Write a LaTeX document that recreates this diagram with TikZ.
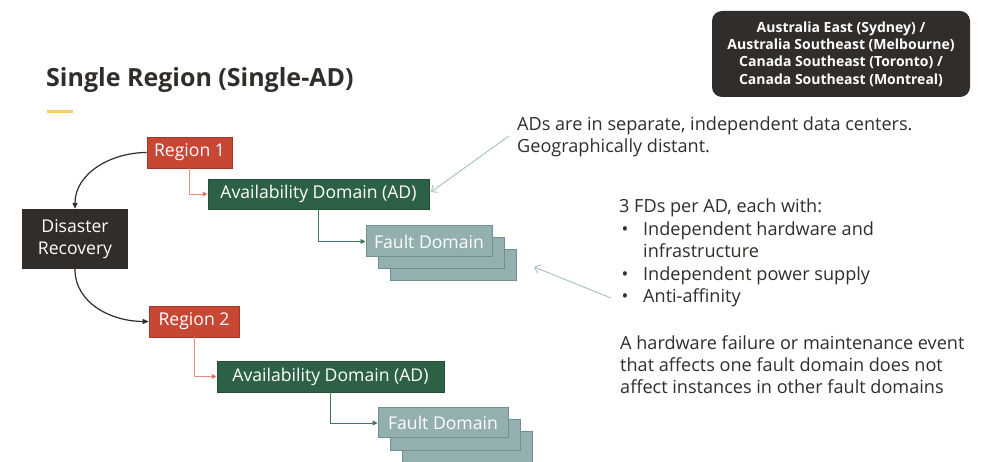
\documentclass[tikz,border=0pt]{standalone}
\usepackage{fontspec}
\setmainfont{Open Sans}
\usetikzlibrary{arrows.meta}
\definecolor{ink}{HTML}{312D2A}
\definecolor{ored}{HTML}{C74634}
\definecolor{oredl}{HTML}{EA8C7E}
\definecolor{ogreen}{HTML}{2D6145}
\definecolor{ogreenl}{HTML}{3E7A58}
\definecolor{fdfill}{HTML}{94AFAF}
\definecolor{fdline}{HTML}{6E9090}
\definecolor{annot}{HTML}{A3C3C3}
\definecolor{oyellow}{HTML}{FACD62}
\begin{document}
\begin{tikzpicture}[x=1pt,y=-1pt,
  boxtext/.style={font=\fontsize{17.6}{20}\selectfont,text=white,inner sep=0pt,align=center},
  regionbox/.style={boxtext,fill=ored,draw=ored!80!black,line width=0.6pt},
  adbox/.style={boxtext,fill=ogreen,draw=ogreen!80!black,line width=0.6pt},
  fdbox/.style={boxtext,fill=fdfill,draw=fdline,line width=1pt,minimum width=126pt,minimum height=31pt},
  darkbox/.style={boxtext,fill=ink},
  note/.style={font=\fontsize{18.1}{22}\selectfont,text=ink,inner sep=0pt,anchor=base west},
  redlink/.style={draw=oredl,line width=0.9pt,-{Triangle[length=5pt,width=5pt,fill=ored]}},
  greenlink/.style={draw=ogreenl,line width=0.9pt,-{Triangle[length=5pt,width=5pt]}},
  drlink/.style={draw=ink,line width=1.2pt,-{Triangle[length=6pt,width=5pt]}},
  annotlink/.style={draw=annot,line width=0.9pt,-{Straight Barb[length=5pt,width=9pt]}}
]
\useasboundingbox (0,0) rectangle (986,462);
\fill[white] (0,0) rectangle (986,462);

% title
\node[font=\fontsize{25}{30}\bfseries,text=ink,inner sep=0pt,anchor=base west] (title) at (46,87) {Single Region (Single-AD)};
\fill[oyellow] (47,110.5) rectangle (73,113.5);

% top right region box
\node[darkbox,rounded corners=10pt,minimum width=258pt,minimum height=86pt,
      font=\fontsize{14}{17.3}\bfseries] (regions) at (841,54)
  {Australia East (Sydney) /\\Australia Southeast (Melbourne)\\Canada Southeast (Toronto) /\\Canada Southeast (Montreal)};

% disaster recovery
\node[darkbox,minimum width=106pt,minimum height=60pt,font=\fontsize{17.6}{22}\selectfont] (dr) at (75,239) {Disaster\\Recovery};

% region 1 chain
\node[regionbox,minimum width=85pt,minimum height=31pt] (r1) at (189.5,152.5) {Region 1};
\node[adbox,minimum width=221pt,minimum height=30pt] (ad1) at (318.5,194) {Availability Domain (AD)};
\node[fdbox] (fd1c) at (453,265.5) {};
\node[fdbox] (fd1b) at (441,253.5) {};
\node[fdbox] (fd1) at (429,241.5) {Fault Domain};

% region 2 chain
\node[regionbox,minimum width=90pt,minimum height=31pt] (r2) at (194,321.5) {Region 2};
\node[adbox,minimum width=227pt,minimum height=31pt] (ad2) at (330.5,376.5) {Availability Domain (AD)};
\node[fdbox,minimum width=130pt,minimum height=30pt] (fd2c) at (467,447) {};
\node[fdbox,minimum width=130pt,minimum height=30pt] (fd2b) at (455,435) {};
\node[fdbox,minimum width=130pt,minimum height=30pt] (fd2) at (443,423) {Fault Domain};

% connectors
\draw[redlink] (r1.south) |- (ad1.west);
\draw[greenlink] (ad1.south) |- (fd1.west);
\draw[redlink] (r2.south) |- (ad2.west);
\draw[greenlink] (ad2.south) |- (fd2.west);
\draw[drlink] (r1.west) to[out=180,in=90] (dr.north);
\draw[drlink] (dr.south) to[out=-90,in=180] (r2.west);

% annotations
\node[note] (n1a) at (517,131) {ADs are in separate, independent data centers.};
\node[note] (n1b) at (517,153) {Geographically distant.};

\node[note] (n2a) at (619,213) {3 FDs per AD, each with:};
\node[note] (n2b) at (619,235.5) {\hspace*{2.5pt}\makebox[21.5pt][l]{•}Independent hardware and};
\node[note] (n2c) at (643,258) {infrastructure};
\node[note] (n2d) at (619,280.5) {\hspace*{2.5pt}\makebox[21.5pt][l]{•}Independent power supply};
\node[note] (n2e) at (619,303) {\hspace*{2.5pt}\makebox[21.5pt][l]{•}Anti-affinity};

\node[note] (n3a) at (620,350) {A hardware failure or maintenance event};
\node[note] (n3b) at (620,372) {that affects one fault domain does not};
\node[note] (n3c) at (620,394) {affect instances in other fault domains};

\coordinate (a1) at (509,136);
\coordinate (a1end) at (431,192);
\coordinate (a2) at (611,298);
\coordinate (a2end) at (534,267);
\draw[annotlink] (a1) -- (a1end);
\draw[annotlink] (a2) -- (a2end);
\end{tikzpicture}
\end{document}
